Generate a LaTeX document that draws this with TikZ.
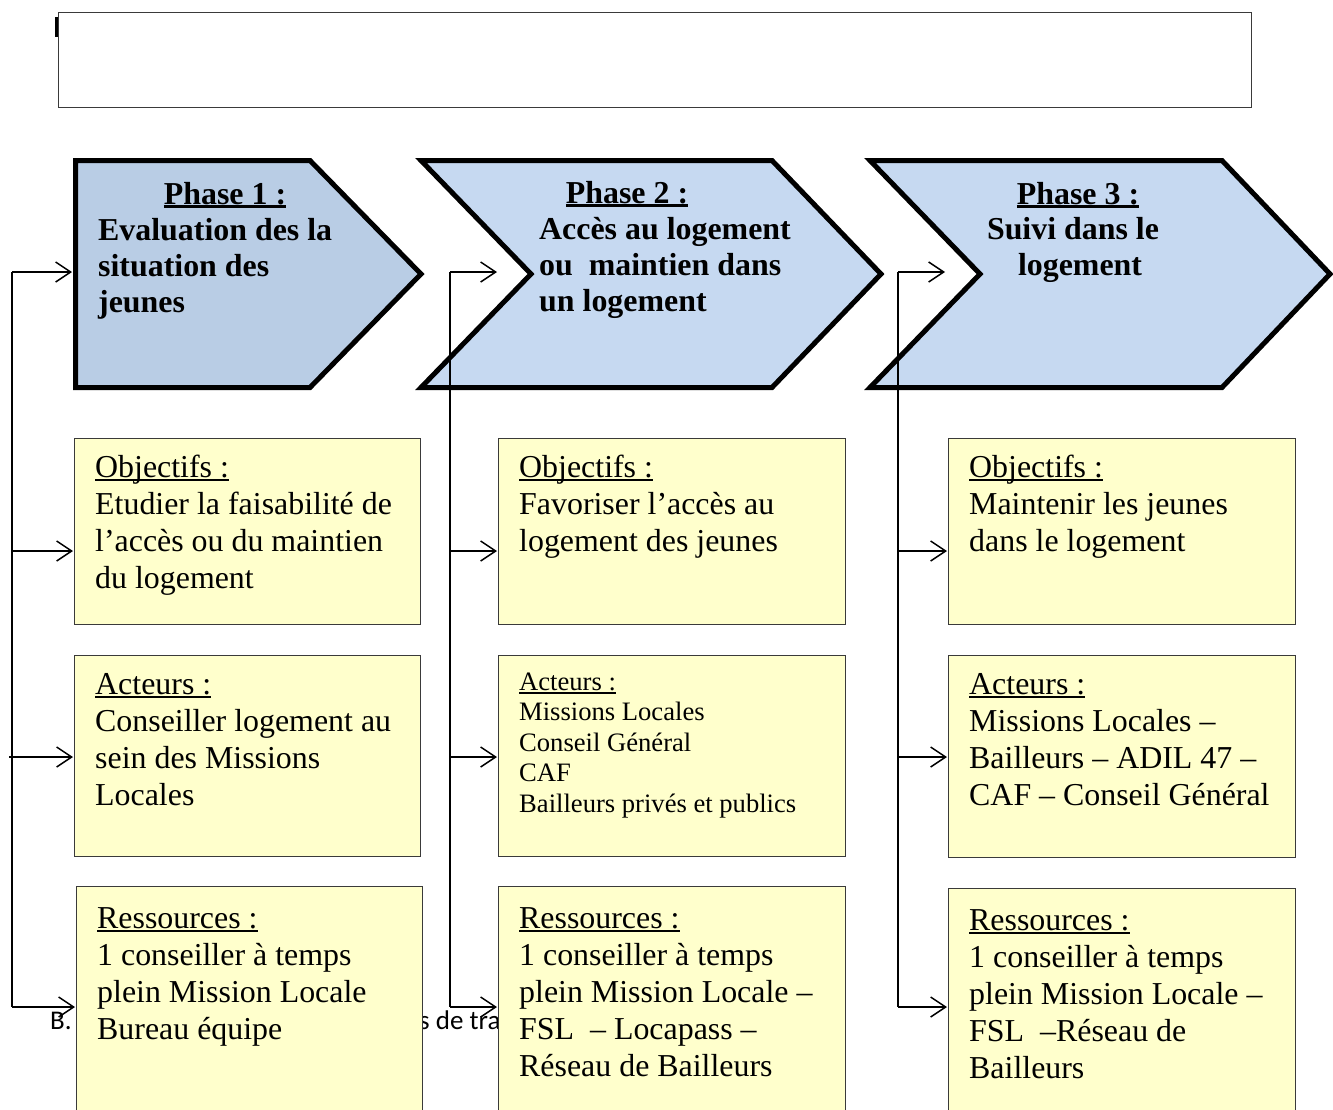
\documentclass[tikz,border=0pt]{standalone}
\usepackage{fontspec}
\setmainfont{Liberation Serif}
\newfontfamily\calibrifont{Carlito}
\usetikzlibrary{arrows.meta}
\definecolor{phaseA}{HTML}{B9CDE5}
\definecolor{phaseB}{HTML}{C6D9F1}
\definecolor{boxyellow}{HTML}{FFFFCC}
\definecolor{boxedge}{HTML}{3A3A3A}
\newcommand\ulx[2][1.8pt]{\leavevmode\setbox0\hbox{#2}\rlap{\rule[-3.5pt]{\wd0}{#1}}\box0}
\begin{document}
\begin{tikzpicture}[x=1pt,y=-1pt,
  phaseshape/.style={draw=black,line width=5pt,line join=miter},
  infobox/.style={draw=boxedge,fill=boxyellow,line width=1.3pt,rectangle,inner sep=0pt,anchor=north west},
  boxtext/.style={anchor=base west,inner sep=0pt,font=\fontsize{31.9}{37}\selectfont},
  smalltext/.style={anchor=base west,inner sep=0pt,font=\fontsize{26.6}{30.5}\selectfont},
  phasetitle/.style={anchor=base,inner sep=0pt,font=\fontsize{31.9}{36}\selectfont\bfseries},
  phasetext/.style={anchor=base west,inner sep=0pt,font=\fontsize{31.9}{36}\selectfont\bfseries},
  conn/.style={line width=1.6pt,draw=black},
  arr/.style={conn,-{Straight Barb[length=15pt,width=20pt,line width=1.5pt]},shorten >=1pt}
]
\useasboundingbox (0,0) rectangle (1333,1109);
% top frame
\node[draw=boxedge,line width=1.4pt,rectangle,inner sep=0pt,anchor=north west,minimum width=1193pt,minimum height=95pt] (frame) at (58,12) {};
\fill[black] (55,17) rectangle (58,37);
% background text partly hidden
\node[anchor=base west,inner sep=0pt,font=\calibrifont\fontsize{27}{32}\selectfont] (bgA) at (50,1029) {B.};
\node[anchor=base west,inner sep=0pt,font=\calibrifont\fontsize{27}{32}\selectfont] (bgB) at (419,1029) {s de tra};
% phases
\filldraw[phaseshape,fill=phaseA] (75.5,160.5) -- (310,160.5) -- (421,274) -- (310,387.5) -- (75.5,387.5) -- cycle;
\filldraw[phaseshape,fill=phaseB] (421,160.5) -- (772,160.5) -- (881,274) -- (772,387.5) -- (421,387.5) -- (531,274) -- cycle;
\filldraw[phaseshape,fill=phaseB] (870,160.5) -- (1222,160.5) -- (1330,274) -- (1222,387.5) -- (870,387.5) -- (980,274) -- cycle;
\node[phasetitle] (ph1t) at (225,204) {\ulx[2.6pt]{Phase 1 :}};
\node[phasetext] (ph1x) at (98,240) {\parbox[t]{330pt}{Evaluation des la\\situation des\\jeunes}};
\node[phasetitle] (ph2t) at (627,203) {\ulx[2.6pt]{Phase 2 :}};
\node[phasetext] (ph2x) at (539,239) {\parbox[t]{340pt}{Accès au logement\\ou\ \ maintien dans\\un logement}};
\node[phasetitle] (ph3t) at (1078,204) {\ulx[2.6pt]{Phase 3 :}};
\node[phasetitle] (ph3x) at (1073,239) {Suivi dans le};
\node[phasetitle] (ph3y) at (1080,275) {logement};
\coordinate (p1in) at (73,272);
\coordinate (p2in) at (498,272);
\coordinate (p3in) at (946,272);
% boxes column 1
\node[infobox,minimum width=346pt,minimum height=186pt] (obj1) at (74,438) {};
\node[infobox,minimum width=346pt,minimum height=201pt] (act1) at (74,655) {};
\node[infobox,minimum width=346pt,minimum height=240pt] (res1) at (76,886) {};
% boxes column 2
\node[infobox,minimum width=347pt,minimum height=186pt] (obj2) at (498,438) {};
\node[infobox,minimum width=347pt,minimum height=201pt] (act2) at (498,655) {};
\node[infobox,minimum width=347pt,minimum height=240pt] (res2) at (498,886) {};
% boxes column 3
\node[infobox,minimum width=347pt,minimum height=186pt] (obj3) at (948,438) {};
\node[infobox,minimum width=347pt,minimum height=202pt] (act3) at (948,655) {};
\node[infobox,minimum width=347pt,minimum height=240pt] (res3) at (948,888) {};
% texts column 1
\node[boxtext] (obj1t) at (95,477) {\parbox[t]{340pt}{\ulx{Objectifs :}\\Etudier la faisabilité de\\l’accès ou du maintien\\du logement}};
\node[boxtext] (act1t) at (95,694) {\parbox[t]{340pt}{\ulx{Acteurs :}\\Conseiller logement au\\sein des Missions\\Locales}};
\node[boxtext] (res1t) at (97,928) {\parbox[t]{340pt}{\ulx{Ressources :}\\1 conseiller à temps\\plein Mission Locale\\Bureau équipe}};
% texts column 2
\node[boxtext] (obj2t) at (519,477) {\parbox[t]{340pt}{\ulx{Objectifs :}\\Favoriser l’accès au\\logement des jeunes}};
\node[smalltext] (act2t) at (519,690) {\parbox[t]{340pt}{\ulx[1.5pt]{Acteurs :}\\Missions Locales\\Conseil Général\\CAF\\Bailleurs privés et publics}};
\node[boxtext] (res2t) at (519,928) {\parbox[t]{340pt}{\ulx{Ressources :}\\1 conseiller à temps\\plein Mission Locale –\\FSL\ \ – Locapass –\\Réseau de Bailleurs}};
% texts column 3
\node[boxtext] (obj3t) at (969,477) {\parbox[t]{340pt}{\ulx{Objectifs :}\\Maintenir les jeunes\\dans le logement}};
\node[boxtext] (act3t) at (969,694) {\parbox[t]{340pt}{\ulx{Acteurs :}\\Missions Locales –\\Bailleurs – ADIL 47 –\\CAF – Conseil Général}};
\node[boxtext] (res3t) at (969,930) {\parbox[t]{340pt}{\ulx{Ressources :}\\1 conseiller à temps\\plein Mission Locale –\\FSL\ \ –Réseau de\\Bailleurs}};
% arrow levels
\coordinate (yO) at (0,551);
\coordinate (yA) at (0,757);
\coordinate (yR) at (0,1007);
% connectors column 1
\coordinate (v1a) at (12,272);
\coordinate (v1b) at (12,1007);
\draw[conn] (v1a) -- (v1b);
\draw[arr] (v1a) -- (p1in);
\draw[arr] (v1a |- yO) -- (obj1.west |- yO);
\draw[arr] ([xshift=-3pt]v1a |- yA) -- (act1.west |- yA);
\draw[arr] (v1b) -- (res1.west |- yR);
% connectors column 2
\coordinate (v2a) at (450,272);
\coordinate (v2b) at (450,1007);
\draw[conn] (v2a) -- (v2b);
\draw[arr] (v2a) -- (p2in);
\draw[arr] (v2a |- yO) -- (obj2.west |- yO);
\draw[arr] (v2a |- yA) -- (act2.west |- yA);
\draw[arr] (v2b) -- (res2.west |- yR);
% connectors column 3
\coordinate (v3a) at (898,272);
\coordinate (v3b) at (898,1007);
\draw[conn] (v3a) -- (v3b);
\draw[arr] (v3a) -- (p3in);
\draw[arr] (v3a |- yO) -- (obj3.west |- yO);
\draw[arr] (v3a |- yA) -- (act3.west |- yA);
\draw[arr] (v3b) -- (res3.west |- yR);
\end{tikzpicture}
\end{document}
